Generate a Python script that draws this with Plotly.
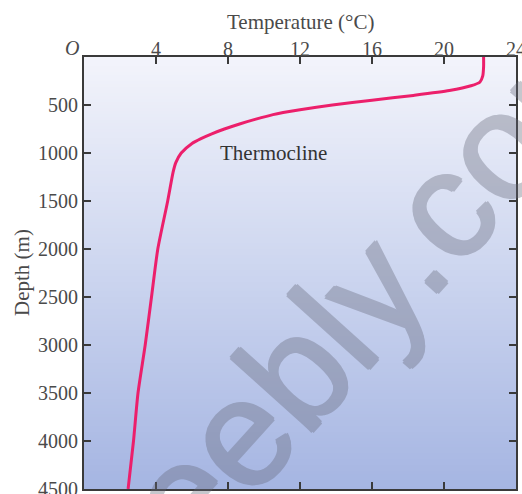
import plotly.graph_objects as go

# Ocean temperature profile: depth (m) vs temperature (°C)
depth_m = [0, 100, 200, 260, 300, 350, 400, 450, 500, 550, 600, 650, 700, 750,
           800, 850, 900, 1000, 1100, 1200, 1500, 2000, 2500, 3000, 3500, 4000, 4500]
temp_c = [22.2, 22.2, 22.15, 22.0, 21.5, 20.3, 18.3, 16.0, 13.8, 12.0, 10.5, 9.5, 8.6, 7.8,
          7.1, 6.5, 6.0, 5.4, 5.1, 4.95, 4.65, 4.1, 3.75, 3.4, 3.0, 2.75, 2.45]

x_ticks = [4, 8, 12, 16, 20, 24]
y_ticks = [500, 1000, 1500, 2000, 2500, 3000, 3500, 4000, 4500]

SERIF = "Liberation Serif, Times New Roman, serif"
TICK_COLOR = "#4a4a4a"
AXIS_COLOR = "#3a3a3a"
MARK_COLOR = "rgb(100,103,120)"

# Water-column shading stops (surface -> sea floor)
SHADE_STOPS = [(0.0, (243, 244, 251)), (0.5, (204, 213, 239)), (1.0, (165, 181, 226))]


def shade_at(t):
    for (t0, c0), (t1, c1) in zip(SHADE_STOPS[:-1], SHADE_STOPS[1:]):
        if t <= t1:
            f = (t - t0) / (t1 - t0)
            return "rgb(%d,%d,%d)" % tuple(round(a + (b - a) * f) for a, b in zip(c0, c1))
    return "rgb(%d,%d,%d)" % SHADE_STOPS[-1][1]


n_bands = 144
bands = []
for i in range(n_bands):
    top = 1 - i / n_bands
    bottom = 1 - (i + 1) / n_bands
    bands.append(dict(type="rect", xref="paper", yref="paper", x0=0, x1=1,
                      y0=max(bottom - 0.002, 0), y1=top, layer="below", line_width=0,
                      fillcolor=shade_at((i + 0.5) / n_bands)))

fig = go.Figure()
fig.add_trace(go.Scatter(
    x=temp_c, y=depth_m, mode="lines",
    line=dict(color="#ec1f6b", width=3, shape="spline", smoothing=0.6),
    hoverinfo="skip", showlegend=False,
))

axis_common = dict(
    showgrid=False, zeroline=False, showline=True, linecolor=AXIS_COLOR, linewidth=2,
    mirror="ticks", ticks="inside", ticklen=7, tickwidth=1.6, tickcolor=AXIS_COLOR,
    tickfont=dict(family=SERIF, size=20, color=TICK_COLOR),
    ticklabeloverflow="allow", automargin=False,
)

# thicken the watermark glyphs a little with same-colour shadows
heavy = ", ".join("%spx %spx 0 %s" % (dx, dy, MARK_COLOR)
                  for dx, dy in [(1.6, 0), (-1.6, 0), (0, 1.6), (0, -1.6)])

fig.update_layout(
    width=522, height=494,
    margin=dict(l=84, r=6, t=57, b=5),
    paper_bgcolor="white", plot_bgcolor="white",
    showlegend=False,
    shapes=bands,
    xaxis=dict(range=[0, 24], side="top", tickvals=x_ticks, ticklabelstandoff=-9,
               **axis_common),
    yaxis=dict(range=[4500, 0], tickvals=y_ticks, **axis_common),
    annotations=[
        dict(text="Temperature (°C)", xref="paper", yref="paper", x=0.5, y=1.0,
             xanchor="center", yanchor="middle", yshift=35, showarrow=False,
             font=dict(family=SERIF, size=21, color=TICK_COLOR)),
        dict(text="O", xref="paper", yref="paper", x=0, y=1.0, xanchor="center",
             yanchor="middle", xshift=-12, yshift=9, showarrow=False,
             font=dict(family=SERIF, size=20, color=TICK_COLOR, style="italic")),
        dict(text="Depth (m)", xref="paper", yref="paper", x=0, y=0.5,
             xanchor="center", yanchor="middle", xshift=-62, textangle=-90,
             showarrow=False, font=dict(family=SERIF, size=21, color=TICK_COLOR)),
        dict(text="Thermocline", x=10.5, y=1000, showarrow=False,
             font=dict(family=SERIF, size=21, color="#333333")),
        dict(text="weebly.com", xref="paper", yref="paper", x=0.603, y=0.398,
             xanchor="center", yanchor="middle", textangle=-48, showarrow=False,
             opacity=0.36,
             font=dict(family="Liberation Sans, Arial, sans-serif", size=152,
                       color=MARK_COLOR, shadow=heavy)),
    ],
)

fig.write_html("out.html")
